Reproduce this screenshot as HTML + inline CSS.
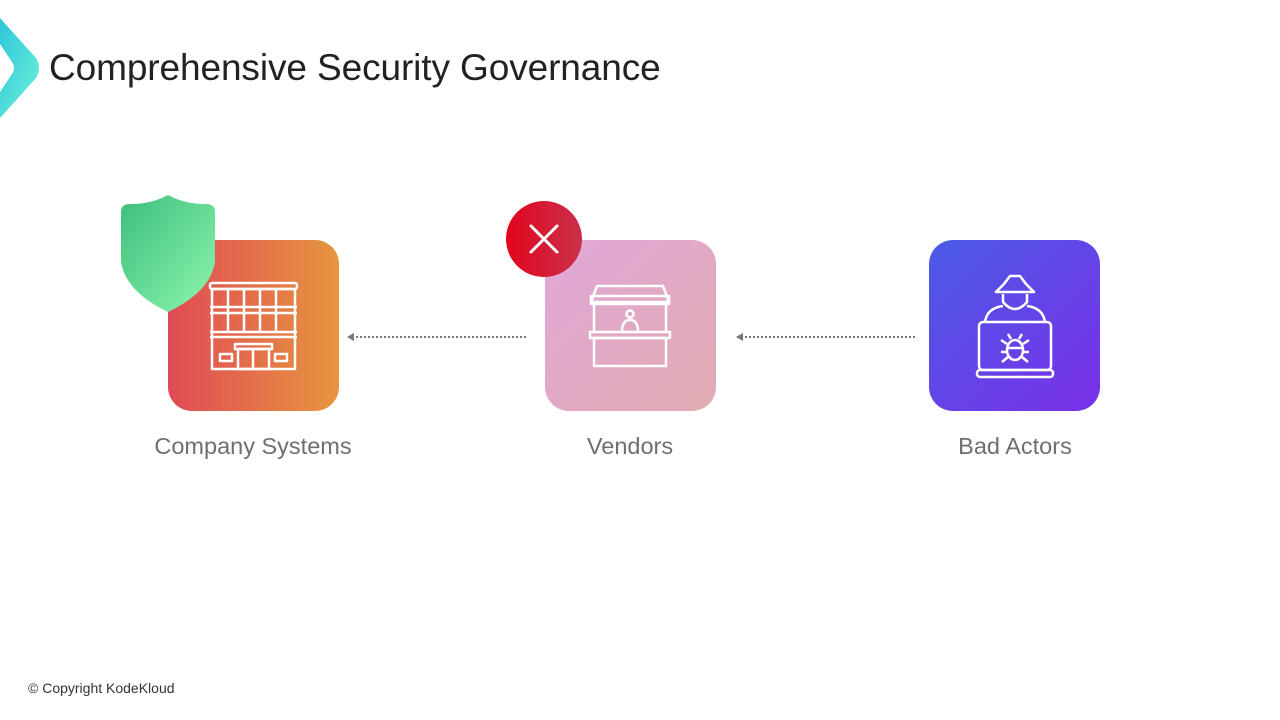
<!DOCTYPE html>
<html><head><style>
body{margin:0;width:1280px;height:720px;background:#fff;position:relative;overflow:hidden;font-family:"Liberation Sans",sans-serif}
.t{position:absolute;left:49px;top:47px;font-size:37px;color:#222;letter-spacing:-0.1px}
.box{position:absolute;top:240px;width:171px;height:171px;border-radius:24px}
.lab{position:absolute;top:433px;font-size:23.5px;color:#6f6f6f;text-align:center;width:300px}
.cp{position:absolute;left:28px;top:680px;font-size:14px;color:#333}
</style></head><body>
<svg width="60" height="130" style="position:absolute;left:0;top:0">
<defs><linearGradient id="lg" x1="0" y1="0" x2="1" y2="1"><stop offset="0" stop-color="#2ec7d8"/><stop offset="1" stop-color="#6ff0dc"/></linearGradient></defs>
<path d="M0 18 L36 58 Q42 68 36 78 L0 118 L0 92 L12 74 Q16 68 12 62 L0 44 Z" fill="url(#lg)"/>
</svg>
<div class="t">Comprehensive Security Governance</div>

<div class="box" style="left:168px;background:linear-gradient(90deg,#e04a55,#e6963f)"></div>
<div class="box" style="left:545px;background:linear-gradient(135deg,#e0a8d8,#e2aab0)"></div>
<div class="box" style="left:929px;background:linear-gradient(135deg,#4b5be6,#7a2fe8)"></div>

<svg width="1280" height="720" style="position:absolute;left:0;top:0">
<defs>
<linearGradient id="sg" x1="0" y1="0" x2="1" y2="1"><stop offset="0" stop-color="#3cbf7a"/><stop offset="1" stop-color="#8ef5b0"/></linearGradient>
<linearGradient id="rg" x1="0" y1="0" x2="1" y2="0"><stop offset="0" stop-color="#e3051d"/><stop offset="1" stop-color="#c9304b"/></linearGradient>
</defs>
<path d="M121 212 Q121 204 130 204 Q152 204 168 195 Q184 204 206 204 Q215 204 215 212 L215 262 Q210 292 168 312 Q126 292 121 262 Z" fill="url(#sg)"/>
<circle cx="544" cy="239" r="38" fill="url(#rg)"/>
<path d="M531 226 L557 252 M557 226 L531 252" stroke="#fff" stroke-width="3" stroke-linecap="round"/>
<g stroke="#777" stroke-width="2" stroke-dasharray="2 2">
<line x1="352" y1="337" x2="527" y2="337"/><line x1="741" y1="337" x2="915" y2="337"/></g>
<path d="M347 337 L354 333 L354 341 Z" fill="#777"/><path d="M736 337 L743 333 L743 341 Z" fill="#777"/>
<g fill="none" stroke="#fff" stroke-width="2.5" stroke-linejoin="round">
<rect x="210" y="283" width="87" height="6" rx="2"/>
<rect x="212" y="289" width="83" height="80"/>
<line x1="210" y1="307" x2="297" y2="307"/><line x1="210" y1="313" x2="297" y2="313"/>
<line x1="210" y1="332" x2="297" y2="332"/><line x1="210" y1="337" x2="297" y2="337"/>
<line x1="228" y1="289" x2="228" y2="332"/><line x1="244" y1="289" x2="244" y2="332"/><line x1="260" y1="289" x2="260" y2="332"/><line x1="276" y1="289" x2="276" y2="332"/>
<rect x="235" y="344" width="37" height="5"/><rect x="238" y="349" width="31" height="20"/><line x1="253" y1="349" x2="253" y2="369"/>
<rect x="220" y="354" width="12" height="7"/><rect x="275" y="354" width="12" height="7"/>
<path d="M591 302 L597 286 L663 286 L669 302 Z"/><rect x="591" y="296" width="78" height="8"/>
<line x1="594" y1="304" x2="594" y2="332"/><line x1="666" y1="304" x2="666" y2="332"/>
<rect x="590" y="332" width="80" height="6"/><rect x="594" y="338" width="72" height="28"/>
<circle cx="630" cy="314" r="3.5"/><path d="M622 332 Q622 320 630 320 Q638 320 638 332"/>
<path d="M996 292 L1034 292 L1026 284 L1020 276 L1010 276 L1004 284 Z"/>
<path d="M1003 294 L1003 302 Q1015 316 1027 302 L1027 294"/>
<path d="M985 322 Q987 308 1003 306 M1027 306 Q1043 308 1045 322"/>
<rect x="979" y="322" width="72" height="48" rx="4"/><rect x="977" y="370" width="76" height="7" rx="3"/>
<ellipse cx="1015" cy="350" rx="8" ry="10"/><line x1="1007" y1="348" x2="1023" y2="348"/>
<path d="M1007 344 L1001 340 M1023 344 L1029 340 M1007 352 L1001 352 M1023 352 L1029 352 M1008 357 L1002 362 M1022 357 L1028 362 M1011 339 L1008 334 M1019 339 L1022 334"/>
</g>
</svg>
<div class="lab" style="left:103px">Company Systems</div>
<div class="lab" style="left:480px">Vendors</div>
<div class="lab" style="left:865px">Bad Actors</div>
<div class="cp">© Copyright KodeKloud</div>
</body></html>
